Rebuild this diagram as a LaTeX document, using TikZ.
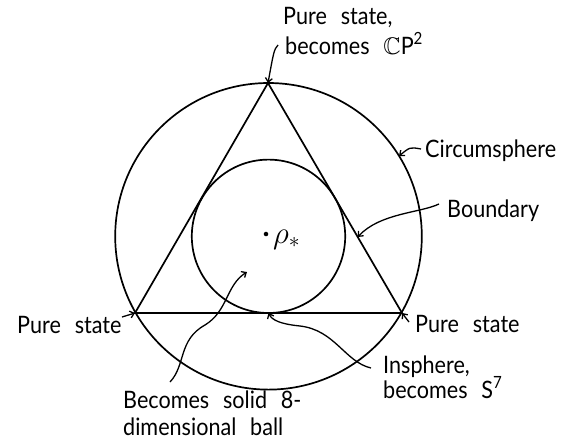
\documentclass[tikz,border=0pt]{standalone}
\usepackage{fontspec}
\usepackage{amssymb}
\setmainfont{Lato}[FakeStretch=0.9, WordSpace=2.5]
\usetikzlibrary{arrows.meta,calc}
\begin{document}
\begin{tikzpicture}[x=1pt,y=-1pt,
  lbl/.style={anchor=base west, inner sep=0pt, font=\fontsize{24}{28}\selectfont},
  arr/.style={line width=1.3pt, -{Straight Barb[length=4pt,width=7pt]}},
  geo/.style={line width=1.7pt}]
\useasboundingbox (0,0) rectangle (577,445);
% geometry
\coordinate (T) at (268,83);
\coordinate (L) at (135,313);
\coordinate (R) at (402,313);
\coordinate (O) at (268.5,236.3);
\draw[geo, line join=miter] (T) -- (L) -- (R) -- cycle;
\draw[geo] (O) circle[radius=153.3pt];
\draw[geo] (O) circle[radius=76.7pt];
\node[circle, fill, inner sep=1.6pt] (dot) at (266,234) {};
\node[lbl, font=\fontsize{24}{28}\selectfont] (rho) at (273,243) {\scalebox{1.25}{$\rho_{*}$}};
% target points
\coordinate (c1) at ($(O)+(31.6:153.3pt)$);
\coordinate (b1) at (357.7,237);
\coordinate (i1) at (268.5,313);
\coordinate (v1) at (247,272);
% labels
\node[lbl] (top1) at (283,24) {Pure state,};
\node[lbl] (top2) at (285,54) {becomes $\mathbb{C}$P\textsuperscript{2}};
\node[lbl] (circ) at (425,157) {Circumsphere};
\node[lbl] (bound) at (447,217) {Boundary};
\node[lbl] (psL) at (17,333) {Pure state};
\node[lbl] (psR) at (415,332) {Pure state};
\node[lbl] (ins1) at (383,373) {Insphere,};
\node[lbl] (ins2) at (383,398) {becomes S\textsuperscript{7}};
\node[lbl] (ball1) at (123,408) {Becomes solid 8-};
\node[lbl] (ball2) at (123,435) {dimensional ball};
% arrow tails
\coordinate (t1) at (278,45);
\coordinate (t2) at (421,149);
\coordinate (t3) at (439,204);
\coordinate (t4) at (122,317);
\coordinate (t5) at (409,322);
\coordinate (t6) at (371,368);
\coordinate (t7) at (170,382);
% arrows
\draw[arr] (t1) .. controls (274,50) .. (T);
\draw[arr] (t2) .. controls (410,147) .. (c1);
\draw[arr] (t3) .. controls (420,213) and (380,213) .. (b1);
\draw[arr] (t4) -- (L);
\draw[arr] (t5) -- (R);
\draw[arr] (t6) .. controls (345,362) and (335,330) .. (300,326) .. controls (280,324) and (272,320) .. (i1);
\draw[arr] (t7) .. controls (186,365) and (178,340) .. (205,325) .. controls (228,311) and (226,285) .. (v1);
\end{tikzpicture}
\end{document}
